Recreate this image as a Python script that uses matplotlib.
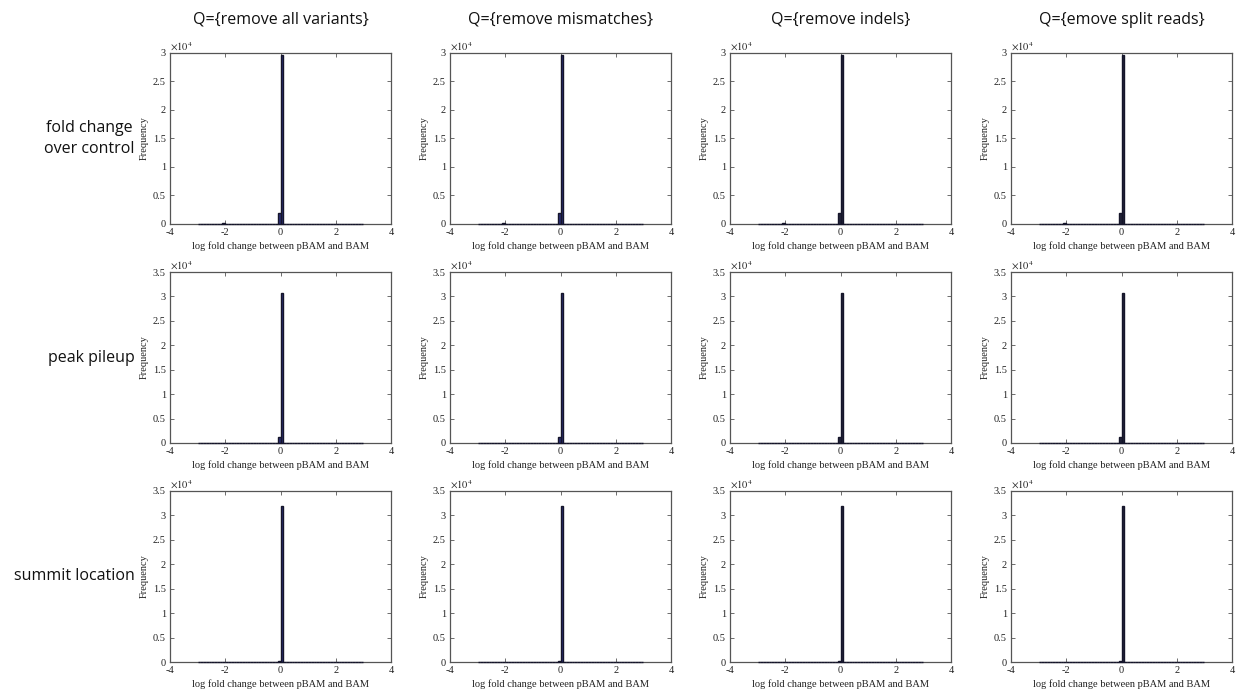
import numpy as np
import matplotlib
matplotlib.use('Agg')
import matplotlib.pyplot as plt

plt.rcParams['axes.unicode_minus'] = False
plt.rcParams['mathtext.fontset'] = 'stix'

# ---- data -----------------------------------------------------------
col_titles = ['Q={remove all variants}', 'Q={remove mismatches}',
              'Q={remove indels}', 'Q={emove split reads}']
row_labels = ['fold change\nover control', 'peak pileup', 'summit location']

# histogram bins span -3..3 with width 0.1 (MATLAB hist style)
bin_lo, bin_hi, bin_w = -3.0, 3.0, 0.1

# non-empty bins: left edges and counts, per row (same for every column)
row1_edges = [-2.1, -0.1, 0.0]
row1_counts = [120, 2000, 29700]
row2_edges = [-0.1, 0.0]
row2_counts = [1300, 30600]
row3_edges = [-0.1, 0.0]
row3_counts = [300, 31900]
row_edges = [row1_edges, row2_edges, row3_edges]
row_counts = [row1_counts, row2_counts, row3_counts]

ylim_top = [3.0, 3.5, 3.5]          # in units of 1e4
xticks = [-4, -2, 0, 2, 4]
xtick_labels = ['-4', '-2', '0', '2', '4']

# ---- layout ---------------------------------------------------------
W, H = 1239, 691
fig = plt.figure(figsize=(W / 100, H / 100), dpi=100)

lefts_px = [170, 450, 730, 1011]
tops_px = [53, 272, 491]
ax_w_px, ax_h_px = 221, 171

face_cols = ['#2b2f78', '#2b2f78', '#23243a', '#23243a']
spine_col = '#555555'
serif = 'Liberation Serif'
sans = 'Open Sans'

edges_all = np.arange(bin_lo, bin_hi - 1e-9, bin_w)

for r in range(3):
    for c in range(4):
        l = lefts_px[c] / W
        b = 1 - (tops_px[r] + ax_h_px) / H
        ax = fig.add_axes([l, b, ax_w_px / W, ax_h_px / H])
        counts = np.zeros(len(edges_all))
        for e, v in zip(row_edges[r], row_counts[r]):
            idx = int(round((e - bin_lo) / bin_w))
            counts[idx] = v
        ax.bar(edges_all, counts, width=bin_w, align='edge',
               color=face_cols[c], edgecolor='#15152a', linewidth=1.0,
               zorder=3, clip_on=False)
        ax.set_xlim(-4, 4)
        ax.set_ylim(0, ylim_top[r] * 1e4)
        ax.set_xticks(xticks)
        ax.set_xticklabels(xtick_labels, fontfamily=serif, fontsize=7.5)
        yt = np.arange(0, ylim_top[r] + 0.01, 0.5)
        ax.set_yticks(yt * 1e4)
        ax.set_yticklabels([('%g' % v) for v in yt], fontfamily=serif, fontsize=7.5)
        ax.tick_params(direction='in', top=True, right=True, length=3,
                       width=0.6, color=spine_col, labelcolor='#222222', pad=3)
        for s in ax.spines.values():
            s.set_color(spine_col)
            s.set_linewidth(0.9)
        ax.set_xlabel('log fold change between pBAM and BAM', fontfamily=serif,
                      fontsize=7.5, color='#222222', labelpad=3)
        ax.set_ylabel('Frequency', fontfamily=serif, fontsize=7.5,
                      color='#222222', labelpad=3)
        ax.text(0.0, 1.0, r'$\times10^{4}$', transform=ax.transAxes,
                ha='left', va='bottom', fontsize=7.5, color='#222222')
        if r == 0:
            fig.text((lefts_px[c] + ax_w_px / 2) / W, 1 - 20 / H, col_titles[c],
                     ha='center', va='center', fontfamily=sans, fontsize=11.5,
                     color='#111111')
    fig.text(135 / W, 1 - (tops_px[r] + ax_h_px / 2) / H, row_labels[r],
             ha='right', va='center', multialignment='center',
             fontfamily=sans, fontsize=11.5, color='#111111', linespacing=1.45)

fig.savefig('out.png', dpi=100, facecolor='white')
